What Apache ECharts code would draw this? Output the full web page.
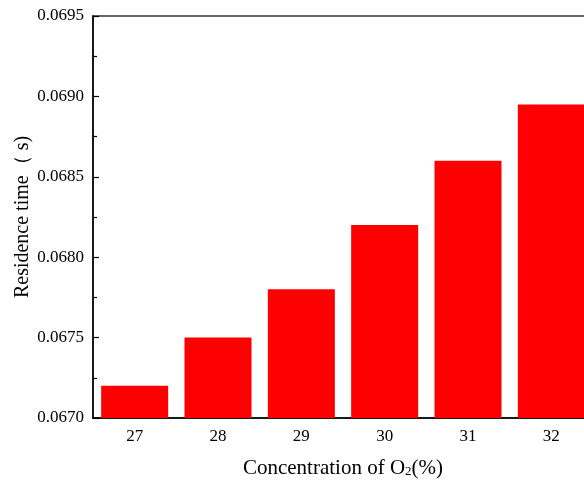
<!DOCTYPE html>
<html><head><meta charset="utf-8">
<script src="https://cdn.jsdelivr.net/npm/echarts@6/dist/echarts.min.js"></script>
<style>html,body{margin:0;padding:0;background:#fff}#c{width:584px;height:484px}</style>
</head><body><div id="c"></div>
<script>
var categories = ['27', '28', '29', '30', '31', '32'];
var residence = [0.0672, 0.0675, 0.0678, 0.0682, 0.0686, 0.06895];
var yMin = 0.0670, yMax = 0.0695, yStep = 0.0005;

var font = '"Liberation Serif", "Times New Roman", serif';
var chart = echarts.init(document.getElementById('c'), null, {renderer: 'canvas'});
chart.setOption({
  animation: false,
  backgroundColor: '#fff',
  grid: {left: 93, top: 16, width: 500, height: 402, containLabel: false, outerBoundsMode: 'none',
    show: true, borderColor: '#333', borderWidth: 1.5, backgroundColor: 'transparent'},
  xAxis: {
    type: 'category', data: categories,
    axisLine: {lineStyle: {color: '#000', width: 1.5}},
    axisTick: {inside: true, length: 4, lineStyle: {color: '#000', width: 1.2}},
    axisLabel: {color: '#000', fontFamily: font, fontSize: 17, margin: 10},
    name: '{a|Concentration of O}{s|2}{a|(%)}',
    nameLocation: 'middle', nameGap: 38,
    nameTextStyle: {rich: {
      a: {fontFamily: font, fontSize: 21, color: '#000', lineHeight: 24, verticalAlign: 'middle'},
      s: {fontFamily: font, fontSize: 13, color: '#000', lineHeight: 24, verticalAlign: 'middle', padding: [8, 0, 0, 0]}
    }}
  },
  yAxis: {
    type: 'value', min: yMin, max: yMax, interval: yStep,
    axisLine: {show: true, lineStyle: {color: '#000', width: 1.5}},
    axisTick: {show: true, inside: true, length: 6, lineStyle: {color: '#000', width: 1.2}},
    minorTick: {show: true, splitNumber: 2, length: 4, lineStyle: {color: '#000', width: 1.2}},
    splitLine: {show: false},
    axisLabel: {color: '#000', fontFamily: font, fontSize: 17, margin: 9,
      formatter: function (v) { return v.toFixed(4); }},
    name: 'Residence time（ s)',
    nameLocation: 'middle', nameGap: 60, nameRotate: 90,
    nameMoveOverlap: false,
    nameTextStyle: {fontFamily: font, fontSize: 20, color: '#000'}
  },
  series: [{
    type: 'bar', data: residence, barWidth: 67,
    itemStyle: {color: '#ff0000'}
  }]
});
</script></body></html>
